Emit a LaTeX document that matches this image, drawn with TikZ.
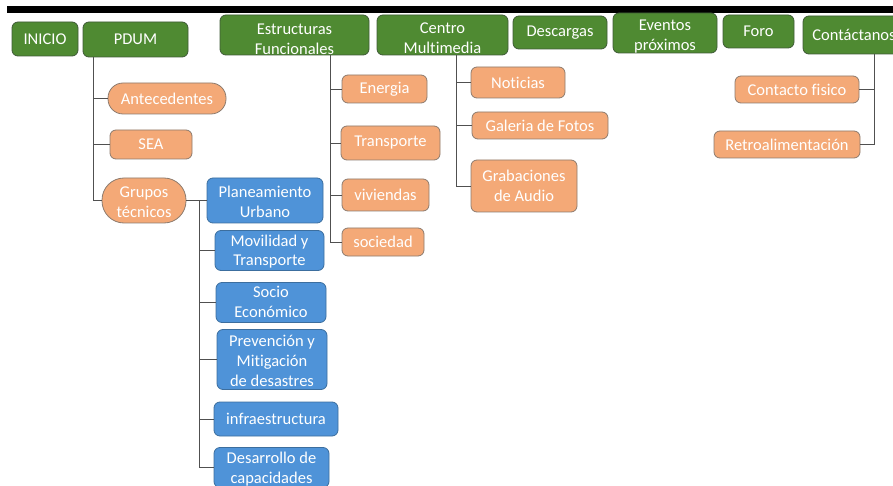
\documentclass[tikz,border=0pt]{standalone}
\usepackage{fontspec}
\setmainfont[Ligatures=NoCommon]{Carlito}
\definecolor{menufill}{HTML}{4F8A32}
\definecolor{menuedge}{HTML}{3E5A36}
\definecolor{itemfill}{HTML}{F4A977}
\definecolor{itemedge}{HTML}{8C7B6E}
\definecolor{groupfill}{HTML}{4F93D8}
\definecolor{groupedge}{HTML}{3C6E9E}
\definecolor{linkgray}{HTML}{505050}
% centred lines of text, drawn a little lower than the box centre
\newcommand\stackedtext[2]{\raisebox{-#1}[\height][\depth]{\begin{tabular}{@{}c@{}}#2\end{tabular}}}
\begin{document}
\begin{tikzpicture}[x=1pt,y=-1pt,
  box/.style={draw, rounded corners=6pt, line width=0.8pt, inner sep=0pt,
    align=center, text=white, font=\fontsize{16.5}{20}\selectfont},
  menubox/.style={box, fill=menufill, draw=menuedge},
  itembox/.style={box, fill=itemfill, draw=itemedge},
  groupbox/.style={box, fill=groupfill, draw=groupedge},
  size/.style 2 args={minimum width=#1pt, minimum height=#2pt},
  link/.style={draw=linkgray, line width=0.9pt},
]
\useasboundingbox (0,0) rectangle (893,486);
\clip (0,0) rectangle (893,486);

% header bar
\fill[black] (7,6) rectangle (893,13);

% main menu
\node[menubox, size={66}{34}]  (inicio)   at (45,39)    {INICIO};
\node[menubox, size={105}{35}] (pdum)     at (135.5,39.5) {PDUM};
\node[menubox, size={149}{38}] (estr)     at (294.5,35) {\stackedtext{5.5pt}{Estructuras\\Funcionales}};
\node[menubox, size={131}{38}] (centro)   at (442.5,35) {\stackedtext{4.3pt}{Centro\\Multimedia}};
\node[menubox, size={94}{33}]  (descargas) at (560,32.5) {Descargas};
\node[menubox, size={104}{38}] (eventos)  at (665,33)   {\stackedtext{3.3pt}{Eventos\\próximos}};
\node[menubox, size={71}{33}]  (foro)     at (758.5,31.5) {Foro};
\node[menubox, size={102}{38}] (contacto) at (854,35)   {Contáctanos};

% PDUM branch
\node[itembox, size={118}{31}, rounded corners=15pt] (antec) at (167,98.5) {Antecedentes};
\node[itembox, size={82}{29}]  (sea)    at (151,144.5) {SEA};
\node[itembox, size={84}{45}, rounded corners=22pt] (grupos) at (144,200.5) {\stackedtext{3pt}{Grupos\\técnicos}};

% technical groups
\node[groupbox, size={116}{45}] (plan)   at (265,200.5) {\stackedtext{2.6pt}{Planeamiento\\Urbano}};
\node[groupbox, size={109}{37}] (movil)  at (269.5,250.5) {\stackedtext{1.5pt}{Movilidad y\\Transporte}};
\node[groupbox, size={110}{39}] (socio)  at (271,302.5) {\stackedtext{0.8pt}{Socio\\Económico}};
\node[groupbox, size={110}{55}] (prev)   at (272,359.5) {\stackedtext{2.5pt}{Prevención y\\Mitigación\\de desastres}};
\node[groupbox, size={124}{34}] (infra)  at (276,419)   {infraestructura};
\node[groupbox, size={115}{39}] (desarr) at (271.5,467.5) {\stackedtext{2pt}{Desarrollo de\\capacidades}};

% Estructuras Funcionales branch
\node[itembox, size={85}{28}] (energia)  at (384.5,89)  {Energia};
\node[itembox, size={99}{34}] (transp)   at (390.5,143) {Transporte};
\node[itembox, size={87}{32}] (vivienda) at (385.5,195) {viviendas};
\node[itembox, size={82}{28}] (socied)   at (383,242)   {sociedad};

% Centro Multimedia branch
\node[itembox, size={94}{31}]  (noticias) at (518,82.5)  {Noticias};
\node[itembox, size={136}{27}] (galeria)  at (540,125.5) {Galeria de Fotos};
\node[itembox, size={106}{52}] (grabac)   at (524,186)   {\stackedtext{1.5pt}{Grabaciones\\de Audio}};

% Contáctanos branch
\node[itembox, size={124}{27}] (fisico) at (797,89.5)  {Contacto fisico};
\node[itembox, size={146}{27}] (retro)  at (787,144.5) {Retroalimentación};

% connectors
\path[link] ([xshift=-42.5pt]pdum.south) |- (antec.west);
\path[link] ([xshift=-42.5pt]pdum.south) |- (sea.west);
\path[link] ([xshift=-42.5pt]pdum.south) |- (grupos.west);

\path[link] (grupos.east) -- (plan.west);
\coordinate (gtrunk) at (199,200.5);
\path[link] (gtrunk) |- (movil.west);
\path[link] (gtrunk) |- (socio.west);
\path[link] (gtrunk) |- (prev.west);
\path[link] (gtrunk) |- (infra.west);
\path[link] (gtrunk) |- (desarr.west);

\path[link] ([xshift=35.5pt]estr.south) |- (energia.west);
\path[link] ([xshift=35.5pt]estr.south) |- (transp.west);
\path[link] ([xshift=35.5pt]estr.south) |- (vivienda.west);
\path[link] ([xshift=35.5pt]estr.south) |- (socied.west);

\path[link] ([xshift=13.5pt]centro.south) |- (noticias.west);
\path[link] ([xshift=13.5pt]centro.south) |- (galeria.west);
\path[link] ([xshift=13.5pt]centro.south) |- (grabac.west);

\path[link] ([xshift=20pt]contacto.south) |- (fisico.east);
\path[link] ([xshift=20pt]contacto.south) |- (retro.east);
\end{tikzpicture}
\end{document}
